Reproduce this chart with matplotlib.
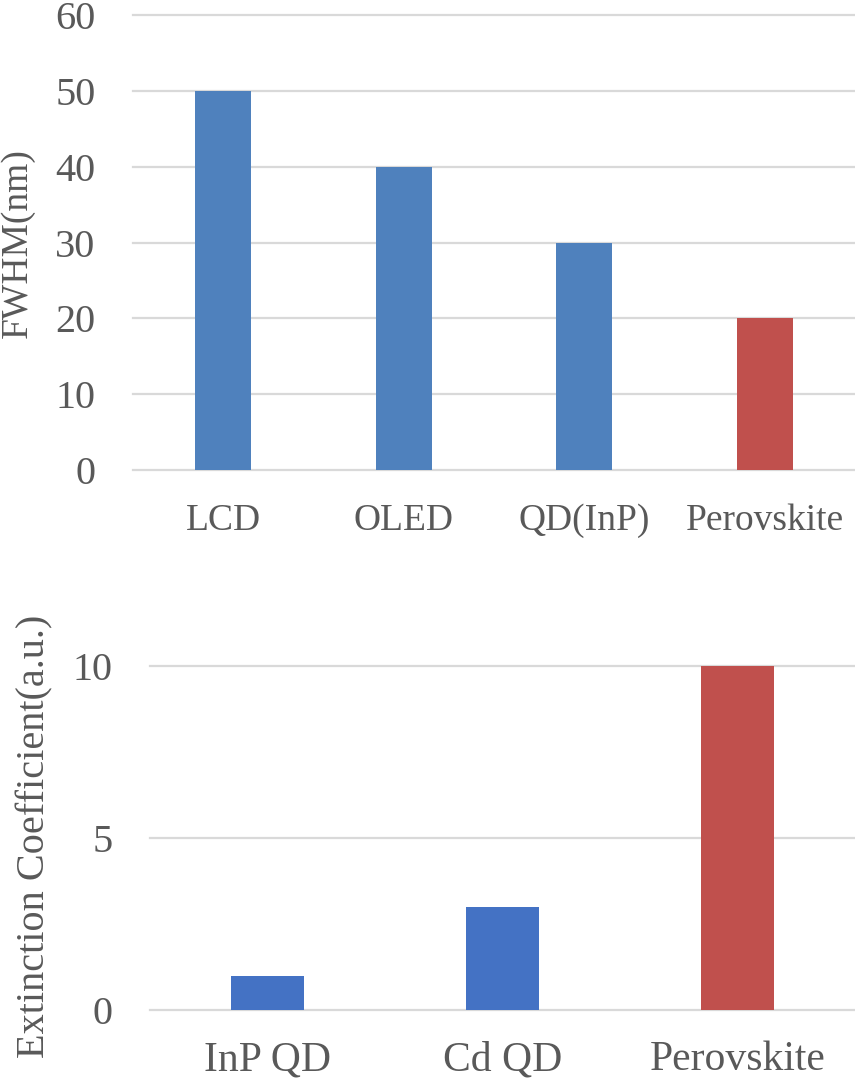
import matplotlib
matplotlib.use('Agg')
import matplotlib.pyplot as plt

plt.rcParams['font.family'] = ['Liberation Serif', 'DejaVu Serif']

# data
fwhm_labels = ['LCD', 'OLED', 'QD(InP)', 'Perovskite']
fwhm_values = [50, 40, 30, 20]
fwhm_colors = ['#4F81BD', '#4F81BD', '#4F81BD', '#C0504D']
fwhm_ticks = [0, 10, 20, 30, 40, 50, 60]

ext_labels = ['InP QD', 'Cd QD', 'Perovskite']
ext_values = [1, 3, 10]
ext_colors = ['#4472C4', '#4472C4', '#C0504D']
ext_ticks = [0, 5, 10]

text_color = '#595959'
grid_color = '#D9D9D9'

fig = plt.figure(figsize=(8.55, 10.86), dpi=100)

def style_axes(ax, ticks, fs):
    for s in ax.spines.values():
        s.set_visible(False)
    ax.set_yticks(ticks)
    ax.set_ylim(ticks[0], ticks[-1])
    ax.tick_params(axis='both', length=0, colors=text_color, labelsize=fs)
    ax.tick_params(axis='y', pad=27)
    ax.grid(axis='y', color=grid_color, linewidth=1.6)
    ax.set_axisbelow(True)
    for gl in ax.get_ygridlines():
        gl.set_clip_on(False)

# top: FWHM
ax1 = fig.add_axes([0.1556, 0.5672, 0.8444, 0.419])
x1 = range(len(fwhm_labels))
ax1.bar(x1, fwhm_values, width=0.31, color=fwhm_colors)
ax1.set_xlim(-0.5, len(fwhm_labels) - 0.5)
ax1.set_xticks(list(x1))
ax1.set_xticklabels(fwhm_labels)
style_axes(ax1, fwhm_ticks, 27)
ax1.tick_params(axis='y', labelsize=29)
ax1.tick_params(axis='x', pad=24)
fig.text(0.021, 0.776, 'FWHM(nm)', rotation=90, ha='center', va='center',
         fontsize=27, color=text_color)

# bottom: extinction coefficient
ax2 = fig.add_axes([0.1754, 0.07, 0.8246, 0.3168])
x2 = range(len(ext_labels))
ax2.bar(x2, ext_values, width=0.31, color=ext_colors)
ax2.set_xlim(-0.5, len(ext_labels) - 0.5)
ax2.set_xticks(list(x2))
ax2.set_xticklabels(ext_labels)
style_axes(ax2, ext_ticks, 30)
ax2.tick_params(axis='y', labelsize=29)
ax2.tick_params(axis='x', pad=22)
fig.text(0.041, 0.23, 'Extinction Coefficient(a.u.)', rotation=90,
         ha='center', va='center', fontsize=29, color=text_color)

plt.savefig('out.png', dpi=100, facecolor='white')
